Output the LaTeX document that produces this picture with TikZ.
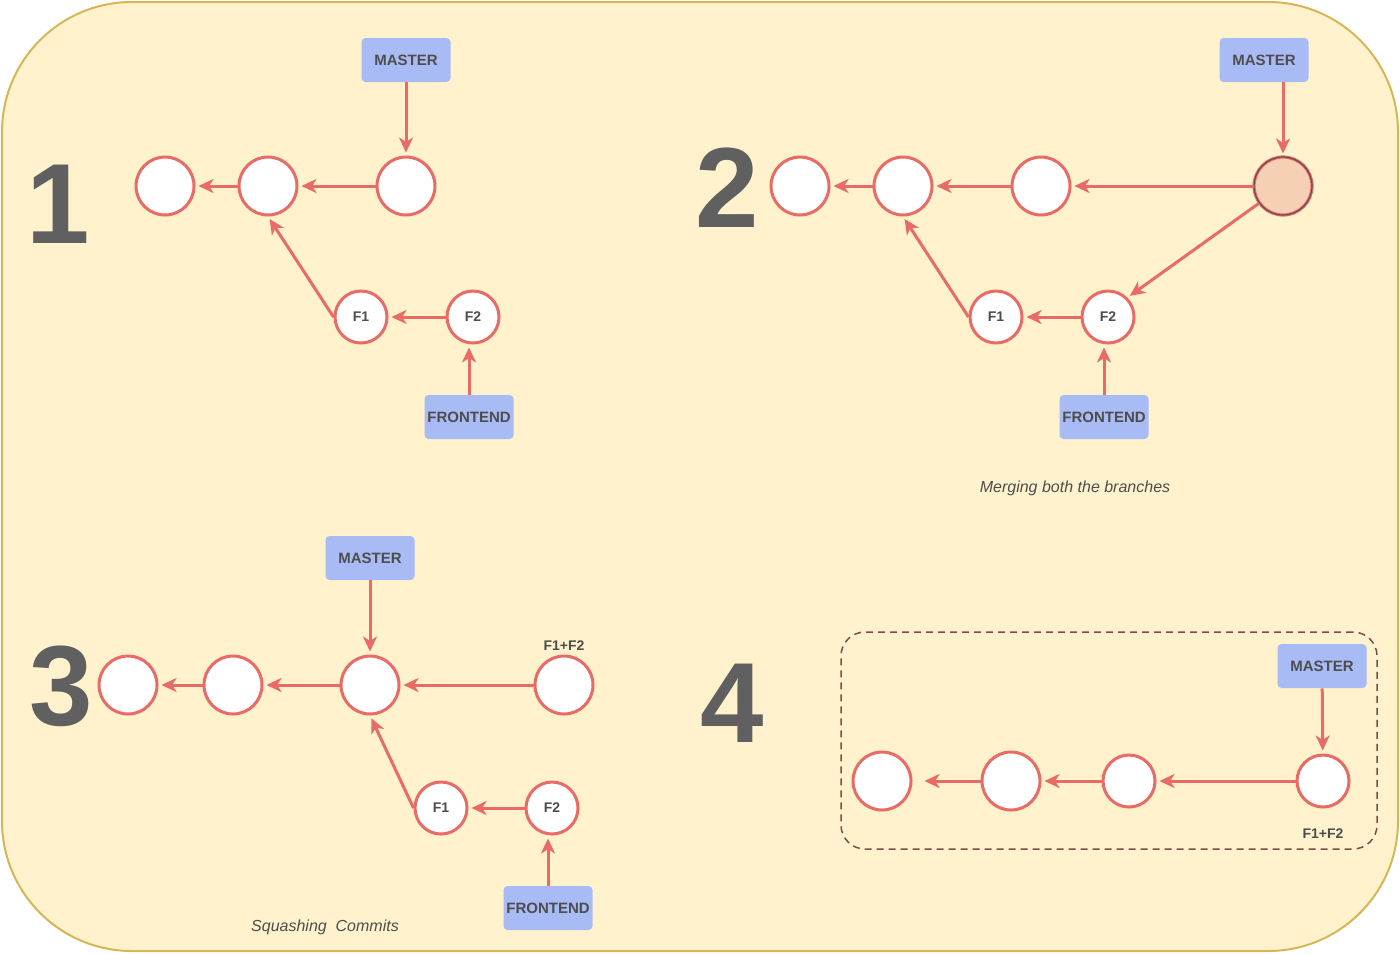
\documentclass[tikz,border=0pt]{standalone}
\usepackage{fontspec}
\setmainfont{Liberation Sans}
\usetikzlibrary{arrows.meta}
\definecolor{notefill}{HTML}{FFF2CC}
\definecolor{notedraw}{HTML}{D6B656}
\definecolor{commitred}{HTML}{EA6B66}
\definecolor{branchblue}{RGB}{169,187,245}
\definecolor{labelgray}{HTML}{4D4D4D}
\definecolor{mergefill}{RGB}{246,208,180}
\definecolor{ringgray}{RGB}{105,80,80}
\definecolor{groupdraw}{RGB}{130,75,75}
\tikzset{
commit/.style={circle,draw=commitred,line width=1.5pt,fill=white,minimum size=29pt,inner sep=0pt,font=\bfseries\fontsize{7}{8}\selectfont,text=labelgray},
smallcommit/.style={commit,minimum size=26pt},
commitlabel/.style={font=\bfseries\fontsize{7}{8}\selectfont,text=labelgray,inner sep=1pt},
branch/.style={rectangle,rounded corners=2pt,fill=branchblue,minimum width=44.5pt,minimum height=22pt,inner sep=0pt,font=\bfseries\fontsize{7.5}{9}\selectfont,text=labelgray},
parent/.style={draw=commitred,line width=1.5pt,-{Stealth[length=7.5pt,width=7pt,inset=2.2pt]},shorten >=1.5pt},
stepno/.style={inner sep=0pt,font=\bfseries\fontsize{57}{60}\selectfont,text=gray!75!black},
caption/.style={font=\itshape\fontsize{8}{9}\selectfont,text=labelgray}
}
\newcommand{\featurebranch}{
\node[commit] at (165,186) (c1){};
\node[commit] at (268,186) (c2){};
\node[commit] at (406,186) (c3){};
\node[smallcommit] at (361,317) (f1){F1};
\node[smallcommit] at (473,317) (f2){F2};
\node[branch] at (469,417) (frontend){FRONTEND};
\draw[parent] (c3) -- (c2);
\draw[parent] (c2) -- (c1);
\draw[parent] (f1.west) -- (c2.south);
\draw[parent] (f2) -- (f1);
\draw[parent] (frontend.north) -- (frontend.north |- f2.south);}

\begin{document}
\begin{tikzpicture}[x=0.5pt,y=-0.5pt]
\useasboundingbox (0,0) rectangle (1400,954);
\draw[fill=notefill,draw=notedraw,line width=1pt,rounded corners=65pt] (2,2) rectangle (1398,951);

\begin{scope}
\node[stepno] at (58,204) (n1){1};
\node[branch] at (406,60) (master){MASTER};
\featurebranch
\draw[parent] (master) -- (c3);
\end{scope}

\begin{scope}[shift={(635,0)}]
\node[stepno] at (92,188) (n2){2};
\node[branch] at (629,60) (master){MASTER};
\featurebranch
\node[commit,fill=mergefill,draw=commitred,line width=0.5pt,double=ringgray,double distance=0.6pt] at (648,186) (merge){};
\draw[parent] (master.south -| merge) -- (merge);
\draw[parent] (merge) -- (c3);
\draw[parent] (merge) -- (f2.north east);
\node[caption] at (440,488) (mergenote){Merging both the branches};
\end{scope}

\begin{scope}
\node[stepno] at (61,686) (n3){3};
\node[branch] at (370,558) (master){MASTER};
\node[commit] at (128,685) (c1){};
\node[commit] at (233,685) (c2){};
\node[commit] at (370,685) (c3){};
\node[commit,label={[commitlabel,label distance=1pt]above:F1+F2}] at (564,685) (squash){};
\node[smallcommit] at (441,808) (f1){F1};
\node[smallcommit] at (552,808) (f2){F2};
\node[branch] at (548,908) (frontend){FRONTEND};
\draw[parent] (master) -- (c3);
\draw[parent] (squash) -- (c3);
\draw[parent] (c3) -- (c2);
\draw[parent] (c2) -- (c1);
\draw[parent] (f1.west) -- (c3.south);
\draw[parent] (f2) -- (f1);
\draw[parent] (frontend.north) -- (frontend.north |- f2.south);
\node[caption] at (325,927) (squashnote){Squashing\ \ Commits};
\end{scope}

\begin{scope}
\node[stepno] at (732,703) (n4){4};
\node[draw=groupdraw,line width=0.75pt,dash pattern=on 3.5pt off 2.5pt,rounded corners=12pt,minimum width=268pt,minimum height=108.5pt] at (1109,740.5) (rebased){};
\node[branch] at (1322,666) (master){MASTER};
\node[commit] at (882,781) (d1){};
\node[commit] at (1011,781) (d2){};
\node[smallcommit] at (1129,781) (d3){};
\node[smallcommit,label={[commitlabel,label distance=9pt]below:F1+F2}] at (1323,781) (d4){};
\draw[parent] (master) -- (d4);
\draw[parent] (d4) -- (d3);
\draw[parent] (d3) -- (d2);
\draw[parent,shorten >=6pt] (d2) -- (d1);
\end{scope}

\end{tikzpicture}
\end{document}
